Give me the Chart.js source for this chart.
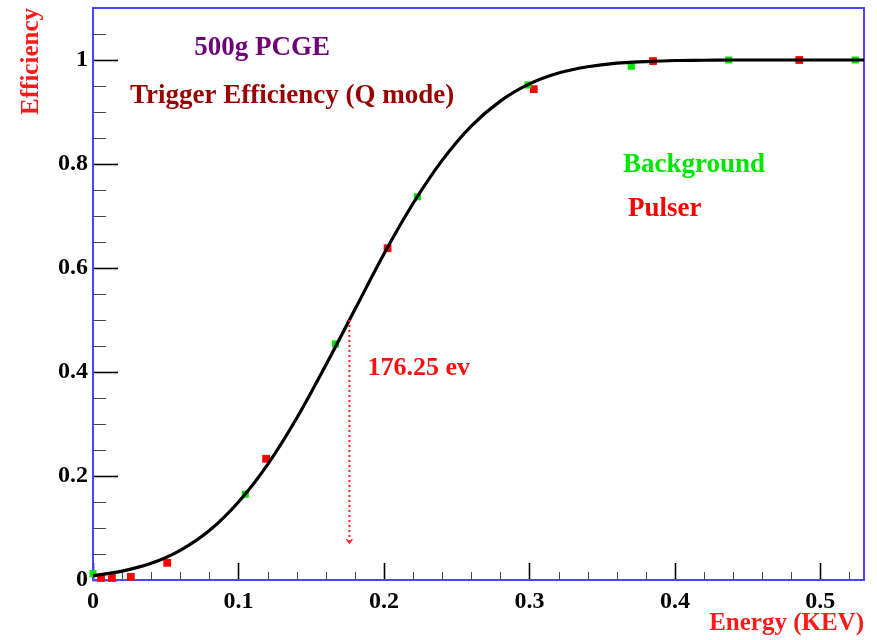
<!DOCTYPE html>
<html>
<head>
<meta charset="utf-8">
<script src="https://cdn.jsdelivr.net/npm/chart.js@4/dist/chart.umd.min.js"></script>
<style>
  html, body { margin: 0; padding: 0; background: #fff; }
  #wrap { width: 877px; height: 640px; }
</style>
</head>
<body>
<div id="wrap"><canvas id="effChart" width="877" height="640"></canvas></div>
<script>
// ===== DATA =====
const bgEnergy = [0.0, 0.1047, 0.1667, 0.223, 0.299, 0.370, 0.437, 0.524];
const bgEff = [0.012, 0.165, 0.454, 0.737, 0.952, 0.988, 1.0, 1.0];

const pulserEnergy = [0.0055, 0.013, 0.026, 0.051, 0.119, 0.2025, 0.303, 0.385, 0.4855];
const pulserEff = [0.004, 0.004, 0.006, 0.033, 0.233, 0.638, 0.944, 0.998, 1.0];

// fitted trigger-efficiency curve
const fitEnergy = [0, 0.02, 0.04, 0.06, 0.08, 0.10, 0.12, 0.14, 0.16, 0.18, 0.20, 0.22, 0.24,
  0.26, 0.28, 0.30, 0.32, 0.34, 0.36, 0.38, 0.40, 0.42, 0.44, 0.46, 0.48, 0.50, 0.53];
const fitEff = [0.008, 0.017, 0.032, 0.057, 0.095, 0.150, 0.222, 0.311, 0.413, 0.520, 0.627,
  0.724, 0.807, 0.873, 0.921, 0.954, 0.975, 0.987, 0.994, 0.997, 0.999, 0.9995, 1.0, 1.0, 1.0, 1.0, 1.0];

const threshold = 0.17625; // keV, 50% point
const thresholdLabel = "176.25 ev";

const xTickValues = [0, 0.1, 0.2, 0.3, 0.4, 0.5];
const yTickValues = [0, 0.2, 0.4, 0.6, 0.8, 1];

const toPoints = (xs, ys) => xs.map((x, i) => ({ x: x, y: ys[i] }));

const SERIF = "'Liberation Serif', 'DejaVu Serif', serif";

// ===== FRAME + INWARD TICKS =====
const framePlugin = {
  id: "frame",
  beforeDatasetsDraw(chart) {
    const { ctx, chartArea: a, scales: { x, y } } = chart;
    ctx.save();

    // y ticks (every 0.05, long at labels)
    for (let v = 0; v <= y.max + 1e-9; v += 0.05) {
      const major = yTickValues.some((t) => Math.abs(t - v) < 1e-6);
      const py = Math.round(y.getPixelForValue(v)) + 0.5;
      ctx.lineWidth = major ? 1.6 : 1;
      ctx.strokeStyle = major ? "#000" : "#444";
      ctx.beginPath();
      ctx.moveTo(a.left, py);
      ctx.lineTo(a.left + (major ? 25 : 13), py);
      ctx.stroke();
    }
    // x ticks (every 0.02, long at labels)
    for (let v = 0; v <= x.max + 1e-9; v += 0.02) {
      const major = xTickValues.some((t) => Math.abs(t - v) < 1e-6);
      const px = Math.round(x.getPixelForValue(v)) + 0.5;
      ctx.lineWidth = major ? 1.6 : 1;
      ctx.strokeStyle = major ? "#000" : "#444";
      ctx.beginPath();
      ctx.moveTo(px, a.bottom);
      ctx.lineTo(px, a.bottom - (major ? 17 : 8));
      ctx.stroke();
    }

    ctx.lineWidth = 2;
    ctx.strokeStyle = "#4646ff";
    ctx.strokeRect(a.left, a.top, a.right - a.left, a.bottom - a.top);
    ctx.restore();
  },
};

// ===== TEXT + THRESHOLD ARROW =====
const notesPlugin = {
  id: "notes",
  afterDatasetsDraw(chart) {
    const { ctx, scales: { x, y } } = chart;
    ctx.save();

    // dotted arrow down from the 50% point
    const ax = x.getPixelForValue(threshold);
    const ay0 = y.getPixelForValue(0.5);
    const ay1 = y.getPixelForValue(0.071);
    ctx.strokeStyle = "#ff2020";
    ctx.lineWidth = 2;
    ctx.setLineDash([2, 3]);
    ctx.beginPath();
    ctx.moveTo(ax, ay0);
    ctx.lineTo(ax, ay1);
    ctx.stroke();
    ctx.setLineDash([]);
    ctx.lineWidth = 1.5;
    ctx.beginPath();
    ctx.moveTo(ax - 3, ay1 - 4);
    ctx.lineTo(ax, ay1);
    ctx.lineTo(ax + 3, ay1 - 4);
    ctx.stroke();

    const notes = [
      { text: "500g PCGE", ex: 0.0696, ey: 1.0096, color: "#6e0078", size: 27 },
      { text: "Trigger Efficiency (Q mode)", ex: 0.0255, ey: 0.917, color: "#990000", size: 27 },
      { text: "Background", ex: 0.3643, ey: 0.785, color: "#00e600", size: 27 },
      { text: "Pulser", ex: 0.3678, ey: 0.70, color: "#ff0000", size: 27 },
      { text: thresholdLabel, ex: 0.1887, ey: 0.394, color: "#ff1010", size: 26 },
    ];
    ctx.textAlign = "left";
    ctx.textBaseline = "alphabetic";
    notes.forEach((n) => {
      ctx.font = "bold " + n.size + "px " + SERIF;
      ctx.fillStyle = n.color;
      ctx.fillText(n.text, x.getPixelForValue(n.ex), y.getPixelForValue(n.ey));
    });
    ctx.restore();
  },
};

// ===== CHART =====
new Chart(document.getElementById("effChart").getContext("2d"), {
  type: "scatter",
  data: {
    datasets: [
      {
        type: "line",
        label: "Fit",
        data: toPoints(fitEnergy, fitEff),
        borderColor: "#000",
        borderWidth: 3.2,
        pointRadius: 0,
        cubicInterpolationMode: "monotone",
        fill: false,
        clip: false,
      },
      {
        label: "Background",
        data: toPoints(bgEnergy, bgEff),
        backgroundColor: "#00e600",
        borderWidth: 0,
        pointStyle: "rect",
        pointRadius: 5,
        clip: false,
      },
      {
        label: "Pulser",
        data: toPoints(pulserEnergy, pulserEff),
        backgroundColor: "#ff0000",
        borderWidth: 0,
        pointStyle: "rect",
        pointRadius: 5.5,
        clip: false,
      },
    ],
  },
  options: {
    responsive: false,
    animation: false,
    layout: { padding: { top: 8, right: 13, left: 0, bottom: 0 } },
    plugins: { legend: { display: false }, tooltip: { enabled: false } },
    scales: {
      x: {
        type: "linear",
        min: 0,
        max: 0.53,
        grid: { display: false, drawTicks: false },
        border: { display: false },
        afterBuildTicks: (s) => { s.ticks = xTickValues.map((v) => ({ value: v })); },
        afterFit: (s) => {
          s.height = 60;
          s.paddingLeft = 0;
          s.paddingRight = 0;
        },
        ticks: {
          padding: 7,
          color: "#000",
          maxRotation: 0,
          font: { family: SERIF, size: 24, weight: "bold" },
          callback: (v) => String(v),
        },
        title: {
          display: true,
          text: "Energy (KEV)",
          align: "end",
          color: "#ff1a1a",
          padding: { top: 0, bottom: 4 },
          font: { family: SERIF, size: 25, weight: "bold", lineHeight: 1 },
        },
      },
      y: {
        type: "linear",
        min: 0,
        max: 1.1,
        grid: { display: false, drawTicks: false },
        border: { display: false },
        afterBuildTicks: (s) => { s.ticks = yTickValues.map((v) => ({ value: v })); },
        afterFit: (s) => {
          s.width = 93;
          s.paddingTop = 0;
          s.paddingBottom = 0;
        },
        ticks: {
          padding: 5,
          color: "#000",
          font: { family: SERIF, size: 24, weight: "bold" },
          callback: (v) => String(v),
        },
        title: {
          display: true,
          text: "Efficiency",
          align: "end",
          color: "#ff1a1a",
          padding: { top: 19, bottom: 0 },
          font: { family: SERIF, size: 25, weight: "bold", lineHeight: 1 },
        },
      },
    },
  },
  plugins: [framePlugin, notesPlugin],
});
</script>
</body>
</html>
